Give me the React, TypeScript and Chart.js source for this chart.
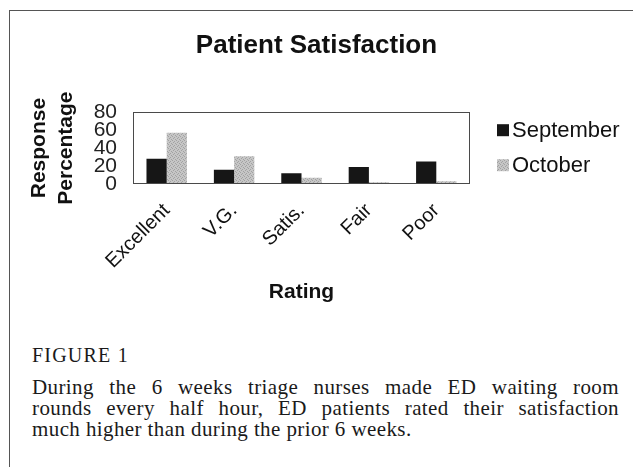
import React, { useEffect, useRef } from "react";
import { Chart, registerables } from "chart.js";

Chart.register(...registerables);

const categories = ["Excellent", "V.G.", "Satis.", "Fair", "Poor"];
const septemberValues = [28, 16, 12, 19, 25];
const octoberValues = [57, 31, 7, 2, 3];
const seriesNames = ["September", "October"];
const yTickValues = [0, 20, 40, 60, 80];
const chartTitle = "Patient Satisfaction";
const yTitleLines = ["Response", "Percentage"];
const xTitle = "Rating";
const figureLabel = "FIGURE 1";
const captionLines = [
  "During the 6 weeks triage nurses made ED waiting room",
  "rounds every half hour, ED patients rated their satisfaction",
  "much higher than during the prior 6 weeks.",
];

const SANS = '"Liberation Sans", Arial, Helvetica, sans-serif';
const SERIF = '"Liberation Serif", "Times New Roman", serif';

function makePattern(): CanvasPattern | string {
  const c = document.createElement("canvas");
  c.width = 4;
  c.height = 4;
  const g = c.getContext("2d");
  if (!g) return "#bbbbbb";
  g.fillStyle = "#c6c6c6";
  g.fillRect(0, 0, 4, 4);
  g.fillStyle = "#a2a2a2";
  [[0, 0], [2, 1], [1, 2], [3, 3]].forEach(([x, y]) => g.fillRect(x, y, 1, 1));
  const p = g.createPattern(c, "repeat");
  return p || "#bbbbbb";
}

const boxAndLegend = {
  id: "boxAndLegend",
  afterDraw(chart: any) {
    const { ctx, chartArea: a } = chart;
    ctx.save();
    ctx.strokeStyle = "#4a4a4a";
    ctx.lineWidth = 1;
    ctx.strokeRect(
      Math.round(a.left) + 0.5,
      Math.round(a.top) + 0.5,
      Math.round(a.right - a.left) - 1,
      Math.round(a.bottom - a.top) - 1
    );
    ctx.font = `22px ${SANS}`;
    ctx.textBaseline = "middle";
    ctx.textAlign = "left";
    chart.data.datasets.forEach((ds: any, i: number) => {
      const cy = a.top + 18 + i * 35;
      const x = a.right + 27;
      ctx.fillStyle = ds.backgroundColor;
      ctx.fillRect(x, cy - 6, 12, 12);
      ctx.fillStyle = "#111";
      ctx.fillText(ds.label, x + 15, cy + 1);
    });
    ctx.restore();
  },
};

function PatientChart() {
  const ref = useRef<HTMLCanvasElement | null>(null);
  useEffect(() => {
    if (!ref.current) return;
    const pattern = makePattern();
    const chart = new Chart(ref.current, {
      type: "bar",
      data: {
        labels: categories,
        datasets: [
          {
            label: seriesNames[0],
            data: septemberValues,
            backgroundColor: "#161616",
            borderWidth: 0,
            categoryPercentage: 0.6,
            barPercentage: 1.0,
          },
          {
            label: seriesNames[1],
            data: octoberValues,
            backgroundColor: pattern as any,
            borderWidth: 0,
            categoryPercentage: 0.6,
            barPercentage: 1.0,
          },
        ],
      },
      options: {
        responsive: false,
        animation: false,
        devicePixelRatio: 1,
        layout: { padding: { left: 0, right: 0, top: 0, bottom: 0 } },
        plugins: {
          legend: { display: false },
          tooltip: { enabled: false },
          title: {
            display: true,
            text: chartTitle,
            color: "#111",
            font: { family: SANS, size: 26, weight: "bold", lineHeight: 1.2 },
            padding: { top: 30, bottom: 51 },
          },
        },
        scales: {
          x: {
            grid: { display: false },
            border: { display: false },
            ticks: {
              color: "#111",
              font: { family: SANS, size: 20 },
              maxRotation: 45,
              minRotation: 45,
              padding: 7,
              autoSkip: false,
            },
            title: {
              display: true,
              text: xTitle,
              color: "#111",
              font: { family: SANS, size: 21, weight: "bold", lineHeight: 1.2 },
              padding: { top: 0, bottom: 15 },
            },
            afterFit(scale: any) {
              scale.height = 136;
            },
          },
          y: {
            min: yTickValues[0],
            max: yTickValues[yTickValues.length - 1],
            grid: { display: false },
            border: { display: false },
            ticks: {
              stepSize: yTickValues[1] - yTickValues[0],
              autoSkip: false,
              color: "#222",
              font: { family: SANS, size: 21, lineHeight: 1 },
              padding: 8,
            },
            title: {
              display: true,
              text: yTitleLines,
              color: "#111",
              font: { family: SANS, size: 21, weight: "bold", lineHeight: 1.28 },
              padding: { top: 26, bottom: 0 },
            },
            afterFit(scale: any) {
              scale.width = 133;
            },
          },
          legendSpace: {
            type: "linear",
            position: "right",
            display: true,
            grid: { display: false },
            border: { display: false },
            ticks: { display: false },
            afterFit(scale: any) {
              scale.width = 163;
            },
          },
        },
      },
      plugins: [boxAndLegend],
    } as any);
    return () => chart.destroy();
  }, []);
  return (
    <canvas
      ref={ref}
      width={633}
      height={320}
      style={{ position: "absolute", left: 0, top: 0, width: 633, height: 320 }}
    />
  );
}

export default function App() {
  return (
    <div
      style={{
        position: "absolute",
        left: 0,
        top: 0,
        width: 633,
        height: 467,
        background: "#fff",
        overflow: "hidden",
      }}
    >
      <div
        style={{
          position: "absolute",
          left: 9,
          top: 10,
          width: 700,
          height: 600,
          borderTop: "1px solid #555",
          borderLeft: "1px solid #555",
        }}
      />
      <PatientChart />
      <div
        style={{
          position: "absolute",
          left: 32,
          top: 345,
          width: 587,
          fontFamily: SERIF,
          color: "#1a1a1a",
          fontSize: 21,
          lineHeight: "21px",
          letterSpacing: "0.4px",
        }}
      >
        <div style={{ fontSize: 20, letterSpacing: "1.2px", height: 32 }}>{figureLabel}</div>
        {captionLines.map((line, i) => {
          const last = i === captionLines.length - 1;
          return (
            <div
              key={i}
              style={{
                height: 21,
                whiteSpace: last ? "nowrap" : "normal",
                textAlign: last ? "left" : "justify",
                textAlignLast: last ? "auto" : "justify",
              }}
            >
              {line}
            </div>
          );
        })}
      </div>
    </div>
  );
}
